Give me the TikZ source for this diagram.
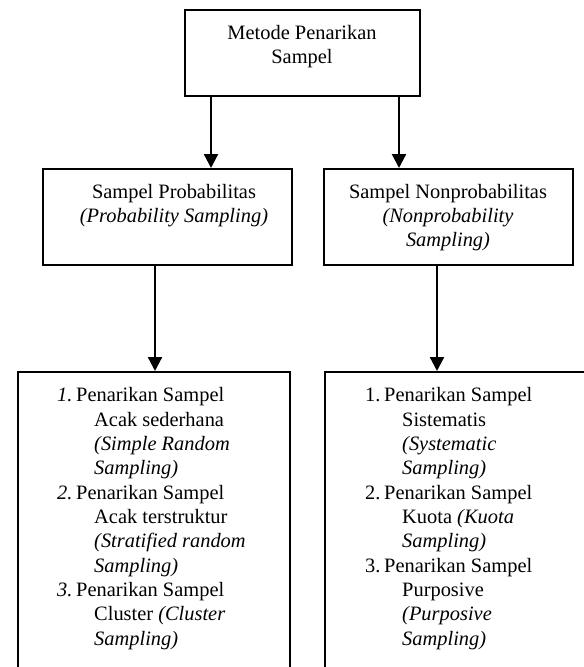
\documentclass[tikz,border=0pt]{standalone}
\usepackage{fontspec}
\setmainfont{Liberation Serif}
\usetikzlibrary{arrows.meta}

\begin{document}
\begin{tikzpicture}[x=1bp, y=-1bp,
  box/.style={draw, line width=1.6bp, rectangle, inner sep=0pt, anchor=north west},
  arr/.style={line width=2.3bp, -{Triangle[width=14bp,length=14bp]}},
  txt/.style={inner sep=0pt, font=\fontsize{20.5}{24.4}\selectfont},
]
\useasboundingbox (0,0) rectangle (584,667);
\clip (0,0) rectangle (584,667);

% boxes
\node[box, minimum width=235bp, minimum height=86bp] (top) at (184,9) {};
\node[box, minimum width=249bp, minimum height=96bp] (pl) at (42,168) {};
\node[box, minimum width=249bp, minimum height=96bp] (pr) at (323,168) {};
\node[box, minimum width=272bp, minimum height=340bp] (bl) at (17,371) {};
\node[box, minimum width=290bp, minimum height=340bp] (br) at (324,371) {};

% box texts (the base anchor of a multi-line node sits on its last line)
\node[txt, align=center, anchor=base] (ttop) at (302,63.4)
  {Metode Penarikan\\Sampel};
\node[txt, align=center, anchor=base] (tpl) at (174,222.4)
  {Sampel Probabilitas\\\textit{(Probability Sampling)}};
\node[txt, align=center, anchor=base] (tpr) at (448,246.8)
  {Sampel Nonprobabilitas\\\textit{(Nonprobability}\\\textit{Sampling)}};

\node[txt, align=left, anchor=base west] (tbl) at (57,645)
  {\makebox[19bp][l]{\textit{1.}}Penarikan Sampel\\
   \hspace*{37bp}Acak sederhana\\
   \hspace*{37bp}\textit{(Simple Random}\\
   \hspace*{37bp}\textit{Sampling)}\\
   \makebox[19bp][l]{\textit{2.}}Penarikan Sampel\\
   \hspace*{37bp}Acak terstruktur\\
   \hspace*{37bp}\textit{(Stratified random}\\
   \hspace*{37bp}\textit{Sampling)}\\
   \makebox[19bp][l]{\textit{3.}}Penarikan Sampel\\
   \hspace*{37bp}Cluster \textit{(Cluster}\\
   \hspace*{37bp}\textit{Sampling)}};

\node[txt, align=left, anchor=base west] (tbr) at (365,645)
  {\makebox[19bp][l]{1.}Penarikan Sampel\\
   \hspace*{37bp}Sistematis\\
   \hspace*{37bp}\textit{(Systematic}\\
   \hspace*{37bp}\textit{Sampling)}\\
   \makebox[19bp][l]{2.}Penarikan Sampel\\
   \hspace*{37bp}Kuota \textit{(Kuota}\\
   \hspace*{37bp}\textit{Sampling)}\\
   \makebox[19bp][l]{3.}Penarikan Sampel\\
   \hspace*{37bp}Purposive\\
   \hspace*{37bp}\textit{(Purposive}\\
   \hspace*{37bp}\textit{Sampling)}};

% connector positions
\coordinate (a1) at (211,0);
\coordinate (a2) at (399,0);
\coordinate (a3) at (155,0);
\coordinate (a4) at (437,0);

\draw[arr] (top.south -| a1) -- (pl.north -| a1);
\draw[arr] (top.south -| a2) -- (pr.north -| a2);
\draw[arr] (pl.south -| a3) -- (bl.north -| a3);
\draw[arr] (pr.south -| a4) -- (br.north -| a4);
\end{tikzpicture}
\end{document}
